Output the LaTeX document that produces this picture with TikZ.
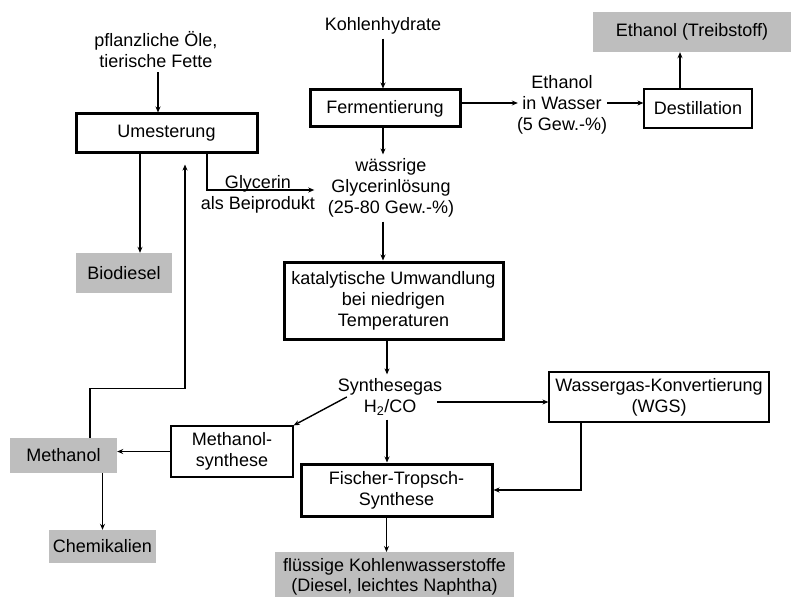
\documentclass[tikz,border=0pt]{standalone}
\usepackage{fontspec}
\setmainfont{Liberation Sans}
\usetikzlibrary{arrows.meta,calc}
\definecolor{boxgrey}{RGB}{190,190,190}
\begin{document}
\begin{tikzpicture}[x=1pt,y=-1pt,
  every node/.style={font=\fontsize{18}{21}\selectfont, align=center, inner sep=4pt},
  thinbox/.style={draw, line width=1.2pt, inner sep=0pt},
  thickbox/.style={draw, line width=3pt, inner sep=0pt},
  greybox/.style={fill=boxgrey, inner sep=0pt},
  arr/.style={line width=1.4pt, -{Stealth[length=6pt,width=5pt]}},
  retarr/.style={line width=1.1pt, -{Stealth[length=6pt,width=5pt]}}]
\useasboundingbox (0,0) rectangle (791,596);
\clip (0,0) rectangle (791,596);
% nodes
\node (oel) at (156,50) {pflanzliche Öle,\\tierische Fette};
\node[thickbox, minimum width=181, minimum height=39] (umest) at (166.5,133.5) {Umesterung};
\node[greybox, minimum width=96, minimum height=40] (biod) at (124,273) {Biodiesel};
\node (kohlen) at (383,26) {Kohlenhydrate};
\node[thickbox, minimum width=150, minimum height=37] (ferm) at (385,108.5) {Fermentierung};
\node (wass) at (391,188) {wässrige\\Glycerinlösung\\(25-80 Gew.-\%)};
\node (glyc) at (258,194) {Glycerin\\als Beiprodukt};
\node (etw) at (562,104.5) {Ethanol\\in Wasser\\(5 Gew.-\%)};
\node[thinbox, minimum width=108, minimum height=39] (dest) at (698,108.5) {Destillation};
\node[greybox, minimum width=198, minimum height=40] (etht) at (692,32) {Ethanol (Treibstoff)};
\node[thickbox, minimum width=219, minimum height=77] (kat) at (393.5,300.5) {katalytische Umwandlung\\bei niedrigen\\Temperaturen};
\node (syn) at (390,397) {Synthesegas\\H\textsubscript{2}/CO};
\node[thinbox, minimum width=220, minimum height=50] (wgs) at (659,397) {Wassergas-Konvertierung\\(WGS)};
\node[thinbox, minimum width=122, minimum height=51] (msyn) at (232,451.5) {Methanol-\\synthese};
\node[greybox, minimum width=107, minimum height=35] (meth) at (63.5,455.5) {Methanol};
\node[greybox, minimum width=107, minimum height=33] (chem) at (102.5,546.5) {Chemikalien};
\node[thickbox, minimum width=191, minimum height=52] (ft) at (396.5,490) {Fischer-Tropsch-\\Synthese};
\node[greybox, minimum width=239, minimum height=50, anchor=north,
      font=\fontsize{18}{20}\selectfont] (fl) at (394.5,552) {flüssige Kohlenwasserstoffe\\(Diesel, leichtes Naphtha)};
\coordinate (ret) at ([xshift=18.5,yshift=-10]umest.south);
% connectors
\draw[arr] ([xshift=2]oel.south) -- ([xshift=2]oel.south |- umest.north);
\draw[arr] ([xshift=16]biod.north |- umest.south) -- ([xshift=16]biod.north);
\draw[arr] ([xshift=40.5]umest.south) |- ([xshift=-9.5,yshift=-2]wass.west);
\draw[arr] (kohlen.south) -- (kohlen.south |- ferm.north);
\draw[arr] (kohlen.south |- ferm.south) -- (kohlen.south |- wass.north);
\draw[arr] (kohlen.south |- wass.south) -- (kohlen.south |- kat.north);
\draw[arr] ([yshift=1.5]ferm.east |- etw.west) -- ([xshift=5,yshift=1.5]etw.west);
\draw[arr] ([xshift=-4,yshift=1.5]etw.east) -- ([yshift=1.5]etw.east -| dest.west);
\draw[arr] ([xshift=-18]dest.north) -- ([xshift=-18]dest.north |- etht.south);
\draw[arr] ([xshift=-3]syn.north |- kat.south) -- ([xshift=-3]syn.north);
\draw[arr] ([xshift=13]syn.west) -- (msyn.north east);
\draw[arr] ([xshift=-9,yshift=-5]syn.east) -- ([yshift=-5]syn.east -| wgs.west);
\draw[arr] ([xshift=-3]syn.south) -- ([xshift=-3]syn.south |- ft.north);
\draw[arr] (msyn.west) -- (msyn.west -| meth.east);
\draw[arr] (chem.north |- meth.south) -- (chem.north);
\draw[retarr] ([xshift=26.5]meth.north) -- ++(0,-49) -| (ret);
\draw[arr] ([xshift=-78]wgs.south) |- (ft.east);
\draw[arr] ([xshift=-10]ft.south) -- ([xshift=-10]ft.south |- fl.north);
\end{tikzpicture}
\end{document}
